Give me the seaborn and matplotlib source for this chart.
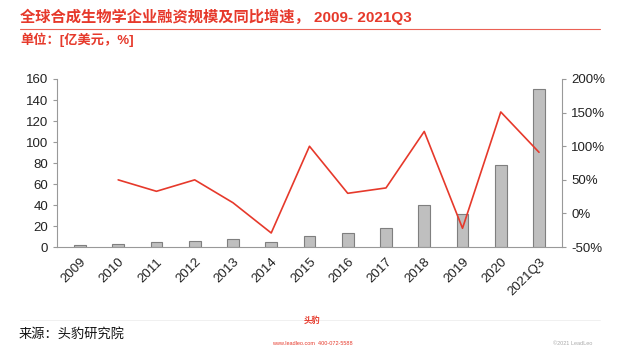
import numpy as np
import pandas as pd
import matplotlib
matplotlib.use("Agg")
import matplotlib.pyplot as plt
import seaborn as sns

years = ["2009", "2010", "2011", "2012", "2013", "2014", "2015",
         "2016", "2017", "2018", "2019", "2020", "2021Q3"]
funding = [2, 3, 4.7, 6, 7.6, 5, 10.7, 13.6, 18.4, 40, 31.4, 78, 150]
growth = [np.nan, 50, 33, 50, 16, -29, 100, 30, 38, 122, -22, 151, 91]

RED = "#e6392b"

sns.set_theme(style="white")
plt.rcParams["font.family"] = ["Liberation Sans", "Noto Sans CJK SC", "DejaVu Sans"]

fig = plt.figure(figsize=(6.24, 3.52), dpi=100)
ax = fig.add_axes([0.0913, 0.298, 0.8093, 0.4776])

df = pd.DataFrame({"year": years, "funding": funding, "growth": growth})
sns.barplot(data=df, x="year", y="funding", color="#bfbfbf", width=0.31,
            edgecolor="#7f7f7f", linewidth=0.8, saturation=1, ax=ax)
ax.set_ylim(0, 160)
ax.set_yticks(range(0, 161, 20))
ax.set_xlim(-0.6, len(years) - 0.4)
ax.set_xlabel("")
ax.set_ylabel("")

ax2 = ax.twinx()
pos = np.arange(len(years))
mask = ~np.isnan(growth)
sns.lineplot(x=pos[mask], y=np.array(growth)[mask], color=RED, linewidth=1.2, ax=ax2)
ax2.set_ylim(-50, 200)
ax2.set_yticks(range(-50, 201, 50))
ax2.set_yticklabels([f"{v}%" for v in range(-50, 201, 50)])

for a in (ax, ax2):
    for s in a.spines.values():
        s.set_visible(False)
    a.tick_params(labelsize=9.5, colors="#222222", length=3, width=0.8)
    a.grid(False)
ax.spines["left"].set_visible(True)
ax.spines["bottom"].set_visible(True)
ax2.spines["right"].set_visible(True)
for s in (ax.spines["left"], ax.spines["bottom"], ax2.spines["right"]):
    s.set_color("#999999")
    s.set_linewidth(0.8)
ax.tick_params(axis="y", left=True, color="#999999")
ax.tick_params(axis="x", bottom=False)
ax2.tick_params(axis="y", right=True, color="#999999")
for lbl in ax.get_xticklabels():
    lbl.set_rotation(45)
    lbl.set_ha("right")
    lbl.set_rotation_mode("anchor")

fig.text(0.032, 0.952, "全球合成生物学企业融资规模及同比增速， 2009- 2021Q3",
         color=RED, fontsize=11, fontweight="bold", va="center", ha="left")
fig.add_artist(plt.Line2D([0.032, 0.962], [0.918, 0.918], color=RED,
                          linewidth=0.8, alpha=0.8))
fig.text(0.032, 0.886, "单位：[亿美元，%]", color=RED, fontsize=9.5,
         fontweight="bold", va="center", ha="left")

fig.add_artist(plt.Line2D([0.032, 0.962], [0.09, 0.09], color="#eeeeee",
                          linewidth=0.6))
fig.text(0.029, 0.05, "来源：头豹研究院", color="#111111", fontsize=9.5,
         va="center", ha="left")
fig.text(0.5, 0.09, "头豹", color=RED, fontsize=6, fontweight="bold",
         va="center", ha="center")
fig.text(0.5, 0.025, "www.leadleo.com  400-072-5588", color=RED, fontsize=4,
         va="center", ha="center")
fig.text(0.95, 0.025, "©2021 LeadLeo", color="#aaaaaa", fontsize=4,
         va="center", ha="right")

fig.savefig("out.png", dpi=100, facecolor="white")
